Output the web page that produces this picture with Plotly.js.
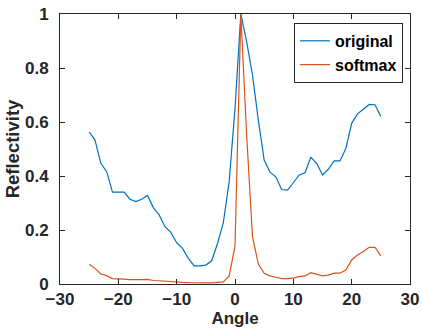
<!DOCTYPE html>
<html>
<head>
<meta charset="utf-8">
<script src="https://cdn.plot.ly/plotly-3.0.1.min.js"></script>
<style>html,body{margin:0;padding:0;background:#fff;}#chart{width:422px;height:328px;}</style>
</head>
<body>
<div id="chart"></div>
<script>
const angles = [-25,-24,-23,-22,-21,-20,-19,-18,-17,-16,-15,-14,-13,-12,-11,-10,-9,-8,-7,-6,-5,-4,-3,-2,-1,0,1,2,3,4,5,6,7,8,9,10,11,12,13,14,15,16,17,18,19,20,21,22,23,24,25];
const original = [0.563,0.533,0.447,0.416,0.34,0.34,0.34,0.314,0.305,0.314,0.328,0.283,0.256,0.212,0.191,0.153,0.132,0.095,0.067,0.067,0.07,0.086,0.15,0.227,0.379,0.65,1.0,0.897,0.774,0.607,0.459,0.414,0.397,0.35,0.348,0.375,0.404,0.412,0.469,0.447,0.404,0.425,0.456,0.456,0.502,0.595,0.63,0.647,0.665,0.664,0.62];
const softmax = [0.073,0.058,0.037,0.031,0.02,0.02,0.018,0.016,0.015,0.016,0.017,0.013,0.012,0.01,0.008,0.007,0.006,0.005,0.004,0.004,0.004,0.004,0.005,0.008,0.03,0.14,1.0,0.55,0.175,0.074,0.04,0.03,0.025,0.02,0.02,0.022,0.027,0.03,0.042,0.037,0.03,0.033,0.04,0.04,0.052,0.089,0.107,0.12,0.136,0.136,0.104];
const seriesNames = ['original','softmax'];
const xTicks = [-30,-20,-10,0,10,20,30];
const yTicks = [0,0.2,0.4,0.6,0.8,1];
const yTickText = ['0','0.2','0.4','0.6','0.8','1'];

const font = 'Liberation Sans, Arial, sans-serif';
const traces = [
  {x: angles, y: original, name: seriesNames[0], type: 'scatter', mode: 'lines', line: {color: '#0072BD', width: 1.2}},
  {x: angles, y: softmax, name: seriesNames[1], type: 'scatter', mode: 'lines', line: {color: '#D95319', width: 1.2}}
];
const axisCommon = {
  showgrid: false, zeroline: false, showline: true, linecolor: '#262626', linewidth: 1,
  mirror: 'ticks', ticks: 'inside', ticklen: 5, tickcolor: '#262626', tickwidth: 1,
  tickfont: {family: font, size: 17, color: '#262626', weight: 'bold'}
};
const layout = {
  width: 422, height: 328,
  margin: {l: 60, r: 12, t: 14, b: 44},
  paper_bgcolor: '#fff', plot_bgcolor: '#fff',
  showlegend: true,
  legend: {x: 0.98, xanchor: 'right', y: 0.967, yanchor: 'top', bgcolor: '#fff', bordercolor: '#262626', borderwidth: 1,
    font: {family: font, size: 16, color: '#000', weight: 'bold'}, tracegroupgap: 0, itemwidth: 30},
  xaxis: Object.assign({}, axisCommon, {range: [-30, 30], tickvals: xTicks, ticklabelstandoff: 0,
    title: {text: 'Angle', font: {family: font, size: 17, color: '#262626', weight: 'bold'}, standoff: 7}}),
  yaxis: Object.assign({}, axisCommon, {range: [0, 1], tickvals: yTicks, ticktext: yTickText, ticklabelstandoff: 7,
    title: {text: 'Reflectivity', font: {family: font, size: 18.5, color: '#262626', weight: 'bold'}, standoff: 0}})
};
Plotly.newPlot('chart', traces, layout, {displayModeBar: false, staticPlot: true});
</script>
</body>
</html>
